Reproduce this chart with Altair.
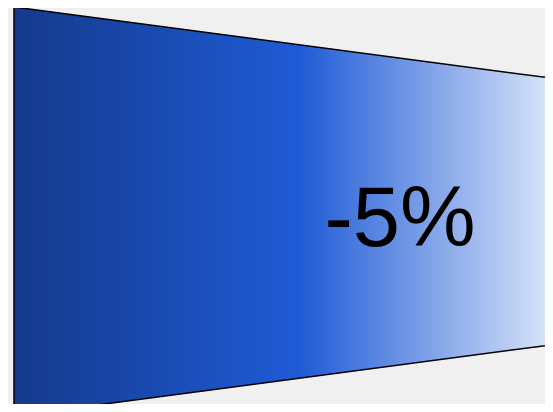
import altair as alt
import pandas as pd

# Funnel segment data
positions = [0.0, 1.0]          # start / end of the segment
values = [100, 50]              # relative width of funnel at each end
label_text = ["-5%"]
label_pos = [0.5]

seg = pd.DataFrame({
    "pos": positions,
    "top": values,
    "bottom": [-v for v in values],
})
lab = pd.DataFrame({"pos": label_pos, "mid": [0], "text": label_text})

xscale = alt.Scale(domain=[0, 1], range=[6, 778], nice=False, zero=False)
yscale = alt.Scale(domain=[-100, 100], range=[408, -1], nice=False, zero=False)

grad = alt.Gradient(
    gradient="linear",
    stops=[
        alt.GradientStop(color="#143a8c", offset=0.0),
        alt.GradientStop(color="#1f5bd6", offset=0.37),
        alt.GradientStop(color="#dae5f9", offset=0.698),
        alt.GradientStop(color="#ffffff", offset=1.0),
    ],
    x1=0, x2=1, y1=0, y2=0,
)

area = alt.Chart(seg).mark_area(
    fill=grad, stroke="black", strokeWidth=1.5, opacity=1
).encode(
    x=alt.X("pos:Q", scale=xscale, axis=None),
    y=alt.Y("top:Q", scale=yscale, axis=None),
    y2="bottom:Q",
)

text = alt.Chart(lab).mark_text(
    font="Liberation Sans", fontSize=85, color="black",
    align="center", baseline="alphabetic", dy=34.5,
).encode(
    x=alt.X("pos:Q", scale=xscale, axis=None),
    y=alt.Y("mid:Q", scale=yscale, axis=None),
    text="text:N",
)

chart = alt.layer(area, text).properties(
    width=537, height=396,
    autosize=alt.AutoSizeParams(type="none"),
    padding=0,
    background="#f0f0f0",
).configure_view(stroke=None)

chart.save("out.html", embed_options={"renderer": "svg", "actions": False})
